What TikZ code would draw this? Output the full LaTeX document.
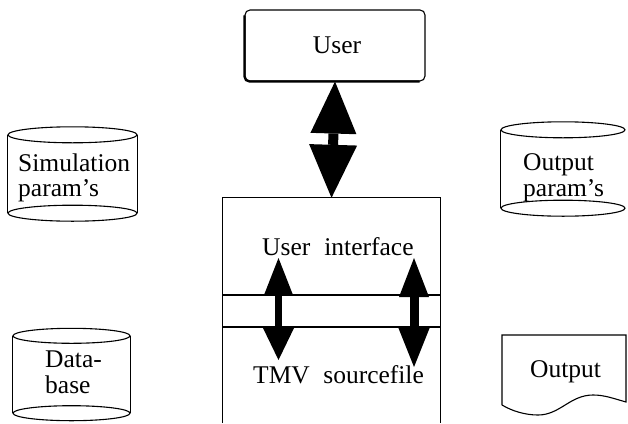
\documentclass[tikz,border=0pt]{standalone}
\usepackage{fontspec}
\setmainfont{Liberation Serif}
\usetikzlibrary{arrows.meta}
\begin{document}
\begin{tikzpicture}[x=1pt,y=-1pt,
  lbl/.style={inner sep=0pt,anchor=base west,font=\fontsize{25.5}{27}\selectfont},
  frame/.style={line width=1.1pt},
  userbox/.style={draw,line width=1.1pt,rounded corners=5pt,minimum width=180pt,minimum height=71pt,inner sep=0pt,font=\fontsize{25.5}{27}\selectfont},
  area/.style={inner sep=0pt,draw=none},
  bigarrow/.style={line width=10pt,{Triangle[length=52pt,width=46pt,line width=0pt]}-{Triangle[length=53pt,width=48pt,line width=0pt]}}
]
\useasboundingbox (0,0) rectangle (628,423);

% User box
\node[userbox] (user) at (335,45.5) {\hspace{4pt}User};
\draw[line width=2.2pt,rounded corners=5pt] ([yshift=-6pt]user.north west) -- (user.south west) -- ([xshift=-6pt]user.south east);

% central system box
\node[area,minimum width=217pt,minimum height=225pt] (sys) at (331.5,310.5) {};
\coordinate (bandtl) at (223,295);
\coordinate (bandtr) at (440,295);
\coordinate (bandbl) at (223,327);
\coordinate (bandbr) at (440,327);
\draw[frame] (sys.south west) -- (sys.north west) -- (sys.north east) -- (sys.south east);
\draw[frame] (bandtl) -- (bandtr);
\draw[frame] (bandbl) -- (bandbr);

\node[lbl] (ui) at (262,255) {User\hspace{0.55em}interface};
\node[lbl] (src) at (253,383) {TMV\hspace{0.53em}sourcefile};

% arrows
\draw[bigarrow] (user.south) -- (sys.north);
\coordinate (l1) at (278.5,258);
\coordinate (l2) at (278.5,360);
\coordinate (r1) at (414,258);
\coordinate (r2) at (414,367);
\draw[line width=7pt,{Triangle[length=37pt,width=29pt,line width=0pt]}-{Triangle[length=33pt,width=32pt,line width=0pt]}] (l1) -- (l2);
\draw[line width=9pt,{Triangle[length=39pt,width=30pt,line width=0pt]}-{Triangle[length=40pt,width=32pt,line width=0pt]}] (r1) -- (r2);

% Simulation param's cylinder
\node[area,minimum width=129pt,minimum height=78pt] (simcyl) at (72.5,174) {};
\draw[frame] (simcyl.north) ellipse [x radius=64.5pt,y radius=8pt];
\draw[frame] (simcyl.south) ellipse [x radius=64.5pt,y radius=8pt];
\draw[frame] (simcyl.north west) -- (simcyl.south west);
\draw[frame] (simcyl.north east) -- (simcyl.south east);
\node[lbl] (sim1) at (18,171) {Simulation};
\node[lbl] (sim2) at (18,196) {param's};

% Output param's cylinder
\node[area,minimum width=124pt,minimum height=78pt] (outcyl) at (563,169) {};
\draw[frame] (outcyl.north) ellipse [x radius=62pt,y radius=8pt];
\draw[frame] (outcyl.south) ellipse [x radius=62pt,y radius=8pt];
\draw[frame] (outcyl.north west) -- (outcyl.south west);
\node[lbl] (op1) at (523,170) {Output};
\node[lbl] (op2) at (523,196) {param's};

% Database cylinder
\node[area,minimum width=117pt,minimum height=77pt] (dbcyl) at (71.5,374.5) {};
\draw[frame] (dbcyl.north) ellipse [x radius=58.5pt,y radius=7.5pt];
\draw[frame] (dbcyl.south) ellipse [x radius=58.5pt,y radius=7.5pt];
\draw[frame] (dbcyl.north west) -- (dbcyl.south west);
\draw[frame] (dbcyl.north east) -- (dbcyl.south east);
\node[lbl] (db1) at (45,367) {Data-};
\node[lbl] (db2) at (45,393) {base};

% Output document
\node[area,minimum width=124pt,minimum height=70pt] (outdoc) at (564,370) {};
\draw[frame] (502,405) -- (502,335) -- (626,335) -- (626,402)
  .. controls (612,398) and (604,395) .. (593,395)
  .. controls (570,395) and (560,415) .. (538,415)
  .. controls (525,415) and (512,411) .. (502,405);
\node[lbl] (outtxt) at (530,377) {Output};
\end{tikzpicture}
\end{document}
